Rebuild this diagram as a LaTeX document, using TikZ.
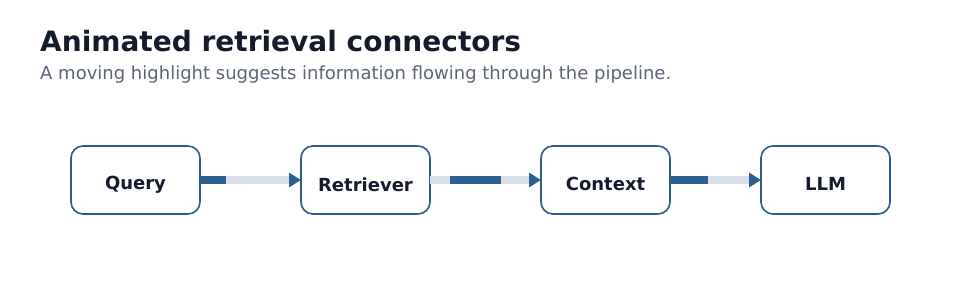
\documentclass[tikz,border=0pt]{standalone}
\usepackage{fontspec}
\setmainfont{DejaVu Sans}
\usetikzlibrary{arrows.meta,calc}
\definecolor{titlec}{HTML}{141B2D}
\definecolor{subc}{HTML}{5B6477}
\definecolor{boxc}{HTML}{2E5C8A}
\definecolor{hlc}{HTML}{2F5F8F}
\definecolor{lightc}{HTML}{D9E0EA}
\tikzset{
  stage/.style={draw=boxc, line width=1.6pt, fill=white, rounded corners=12pt,
    minimum width=129pt, minimum height=68pt, inner sep=0pt, outer sep=0pt},
  stagelabel/.style={text=titlec, font=\fontsize{18}{21}\selectfont\bfseries,
    inner sep=0pt, yshift=-4.3pt},
  conn/.style={draw=lightc, line width=8pt, yshift=-0.8pt,
    -{Triangle[length=12pt,width=14pt,color=hlc,fill=hlc]}},
  hl/.style={draw=hlc, line width=8pt, yshift=-0.8pt}
}
\begin{document}
\begin{tikzpicture}[x=1pt,y=-1pt]
\useasboundingbox (0,0) rectangle (960,300);
\fill[white] (0,0) rectangle (960,300);
\node[anchor=base west, inner sep=0pt, text=titlec, font=\fontsize{28}{32}\selectfont\bfseries] (title) at (40,51) {Animated retrieval connectors};
\node[anchor=base west, inner sep=0pt, text=subc, font=\fontsize{18}{21}\selectfont] (sub) at (40,79) {A moving highlight suggests information flowing through the pipeline.};
\node[stage, label={[stagelabel]center:Query}] (q) at (135.5,180) {};
\node[stage, label={[stagelabel]center:Retriever}] (r) at (365.5,180) {};
\node[stage, label={[stagelabel]center:Context}] (c) at (605.5,180) {};
\node[stage, label={[stagelabel]center:LLM}] (l) at (825.5,180) {};
\draw[conn] (q.east) -- (r.west);
\draw[conn] (r.east) -- (c.west);
\draw[conn] (c.east) -- (l.west);
\draw[hl] (q.east) -- ++(26,0);
\draw[hl] ($(r.east)+(20,0)$) -- ++(51,0);
\draw[hl] (c.east) -- ++(38,0);
\end{tikzpicture}
\end{document}
